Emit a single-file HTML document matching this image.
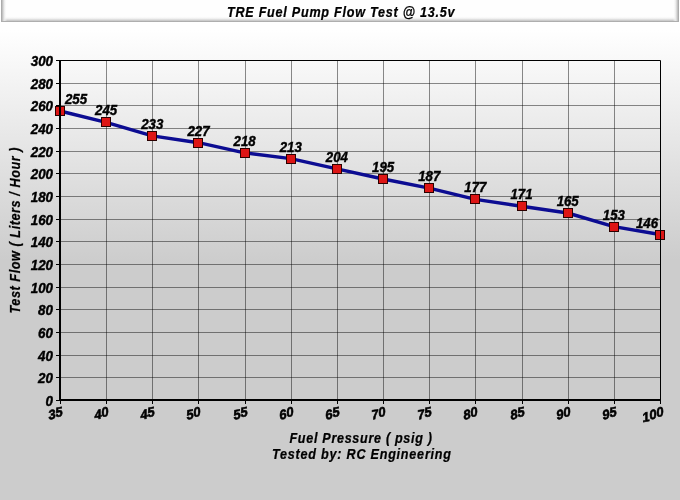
<!DOCTYPE html><html><head><meta charset="utf-8"><style>html,body{margin:0;padding:0;width:680px;height:500px;overflow:hidden;background:#ccc}svg{display:block;will-change:transform}text{font-family:"Liberation Sans",sans-serif}</style></head><body>
<svg width="680" height="500" viewBox="0 0 680 500">
<defs>
<linearGradient id="bg" x1="0" y1="0" x2="0" y2="1" gradientUnits="objectBoundingBox"><stop offset="0" stop-color="#ffffff"/><stop offset="0.06" stop-color="#ffffff"/><stop offset="0.52" stop-color="#cccccc"/><stop offset="1" stop-color="#cccccc"/></linearGradient>
<linearGradient id="pl" x1="0" y1="60" x2="0" y2="400" gradientUnits="userSpaceOnUse"><stop offset="0" stop-color="#f9f9f9"/><stop offset="0.6" stop-color="#cccccc"/><stop offset="1" stop-color="#cccccc"/></linearGradient>
<linearGradient id="tb" x1="0" y1="0" x2="0" y2="22" gradientUnits="userSpaceOnUse"><stop offset="0" stop-color="#ffffff"/><stop offset="0.7" stop-color="#fafafa"/><stop offset="0.85" stop-color="#e0e0e0"/><stop offset="1" stop-color="#a8a8a8"/></linearGradient>
</defs>
<rect x="0" y="0" width="680" height="500" fill="url(#bg)"/>
<linearGradient id="tl" x1="1" y1="0" x2="7" y2="0" gradientUnits="userSpaceOnUse"><stop offset="0" stop-color="#a0a0a0"/><stop offset="0.2" stop-color="#bcbcbc"/><stop offset="0.5" stop-color="#e6e6e6"/><stop offset="1" stop-color="#ffffff" stop-opacity="0"/></linearGradient>
<linearGradient id="tr" x1="679" y1="0" x2="673" y2="0" gradientUnits="userSpaceOnUse"><stop offset="0" stop-color="#a0a0a0"/><stop offset="0.2" stop-color="#bcbcbc"/><stop offset="0.5" stop-color="#e6e6e6"/><stop offset="1" stop-color="#ffffff" stop-opacity="0"/></linearGradient>
<linearGradient id="tbm" x1="0" y1="16" x2="0" y2="22" gradientUnits="userSpaceOnUse"><stop offset="0" stop-color="#ffffff" stop-opacity="0"/><stop offset="0.45" stop-color="#eeeeee"/><stop offset="0.75" stop-color="#cccccc"/><stop offset="1" stop-color="#a0a0a0"/></linearGradient>
<rect x="1" y="0" width="678" height="22" fill="#fefefe"/>
<rect x="1" y="16" width="678" height="6" fill="url(#tbm)"/>
<rect x="1" y="0" width="6" height="21" fill="url(#tl)"/>
<rect x="673" y="0" width="6" height="21" fill="url(#tr)"/>
<text transform="translate(227 16.6) scale(0.9 1)" x="0" y="0" textLength="252.78" lengthAdjust="spacing" font-size="14" font-weight="bold" font-style="italic" fill="#000" stroke="#000" stroke-width="0.25">TRE Fuel Pump Flow Test @ 13.5v</text>
<rect x="60" y="60" width="600" height="340" fill="url(#pl)"/>
<path d="M106.5 60V400M152.5 60V400M198.5 60V400M245.5 60V400M291.5 60V400M337.5 60V400M383.5 60V400M429.5 60V400M475.5 60V400M522.5 60V400M568.5 60V400M614.5 60V400" stroke="#000" stroke-opacity="0.45" stroke-width="1" fill="none"/>
<path d="M60 377.5H660M60 355.5H660M60 332.5H660M60 309.5H660M60 287.5H660M60 264.5H660M60 241.5H660M60 219.5H660M60 196.5H660M60 173.5H660M60 151.5H660M60 128.5H660M60 105.5H660M60 83.5H660" stroke="#000" stroke-opacity="0.45" stroke-width="1" fill="none"/>
<text transform="translate(53 405.75) scale(0.97 1)" text-anchor="end" font-size="13.8" font-weight="bold" font-style="italic" fill="#000" stroke="#000" stroke-width="0.4">0</text>
<text transform="translate(53 382.75) scale(0.97 1)" text-anchor="end" font-size="13.8" font-weight="bold" font-style="italic" fill="#000" stroke="#000" stroke-width="0.4">20</text>
<text transform="translate(53 360.75) scale(0.97 1)" text-anchor="end" font-size="13.8" font-weight="bold" font-style="italic" fill="#000" stroke="#000" stroke-width="0.4">40</text>
<text transform="translate(53 337.75) scale(0.97 1)" text-anchor="end" font-size="13.8" font-weight="bold" font-style="italic" fill="#000" stroke="#000" stroke-width="0.4">60</text>
<text transform="translate(53 314.75) scale(0.97 1)" text-anchor="end" font-size="13.8" font-weight="bold" font-style="italic" fill="#000" stroke="#000" stroke-width="0.4">80</text>
<text transform="translate(53 292.75) scale(0.97 1)" text-anchor="end" font-size="13.8" font-weight="bold" font-style="italic" fill="#000" stroke="#000" stroke-width="0.4">100</text>
<text transform="translate(53 269.75) scale(0.97 1)" text-anchor="end" font-size="13.8" font-weight="bold" font-style="italic" fill="#000" stroke="#000" stroke-width="0.4">120</text>
<text transform="translate(53 246.75) scale(0.97 1)" text-anchor="end" font-size="13.8" font-weight="bold" font-style="italic" fill="#000" stroke="#000" stroke-width="0.4">140</text>
<text transform="translate(53 224.75) scale(0.97 1)" text-anchor="end" font-size="13.8" font-weight="bold" font-style="italic" fill="#000" stroke="#000" stroke-width="0.4">160</text>
<text transform="translate(53 201.75) scale(0.97 1)" text-anchor="end" font-size="13.8" font-weight="bold" font-style="italic" fill="#000" stroke="#000" stroke-width="0.4">180</text>
<text transform="translate(53 178.75) scale(0.97 1)" text-anchor="end" font-size="13.8" font-weight="bold" font-style="italic" fill="#000" stroke="#000" stroke-width="0.4">200</text>
<text transform="translate(53 156.75) scale(0.97 1)" text-anchor="end" font-size="13.8" font-weight="bold" font-style="italic" fill="#000" stroke="#000" stroke-width="0.4">220</text>
<text transform="translate(53 133.75) scale(0.97 1)" text-anchor="end" font-size="13.8" font-weight="bold" font-style="italic" fill="#000" stroke="#000" stroke-width="0.4">240</text>
<text transform="translate(53 110.75) scale(0.97 1)" text-anchor="end" font-size="13.8" font-weight="bold" font-style="italic" fill="#000" stroke="#000" stroke-width="0.4">260</text>
<text transform="translate(53 88.75) scale(0.97 1)" text-anchor="end" font-size="13.8" font-weight="bold" font-style="italic" fill="#000" stroke="#000" stroke-width="0.4">280</text>
<text transform="translate(53 65.75) scale(0.97 1)" text-anchor="end" font-size="13.8" font-weight="bold" font-style="italic" fill="#000" stroke="#000" stroke-width="0.4">300</text>
<text transform="translate(62.70 417.30) skewY(-10) scale(0.94 1)" text-anchor="end" dy="0 -1.25" font-size="13.6" font-weight="bold" fill="#000" stroke="#000" stroke-width="0.6">35</text>
<text transform="translate(108.70 417.30) skewY(-10) scale(0.94 1)" text-anchor="end" dy="0 -1.25" font-size="13.6" font-weight="bold" fill="#000" stroke="#000" stroke-width="0.6">40</text>
<text transform="translate(154.70 417.30) skewY(-10) scale(0.94 1)" text-anchor="end" dy="0 -1.25" font-size="13.6" font-weight="bold" fill="#000" stroke="#000" stroke-width="0.6">45</text>
<text transform="translate(200.70 417.30) skewY(-10) scale(0.94 1)" text-anchor="end" dy="0 -1.25" font-size="13.6" font-weight="bold" fill="#000" stroke="#000" stroke-width="0.6">50</text>
<text transform="translate(247.70 417.30) skewY(-10) scale(0.94 1)" text-anchor="end" dy="0 -1.25" font-size="13.6" font-weight="bold" fill="#000" stroke="#000" stroke-width="0.6">55</text>
<text transform="translate(293.70 417.30) skewY(-10) scale(0.94 1)" text-anchor="end" dy="0 -1.25" font-size="13.6" font-weight="bold" fill="#000" stroke="#000" stroke-width="0.6">60</text>
<text transform="translate(339.70 417.30) skewY(-10) scale(0.94 1)" text-anchor="end" dy="0 -1.25" font-size="13.6" font-weight="bold" fill="#000" stroke="#000" stroke-width="0.6">65</text>
<text transform="translate(385.70 417.30) skewY(-10) scale(0.94 1)" text-anchor="end" dy="0 -1.25" font-size="13.6" font-weight="bold" fill="#000" stroke="#000" stroke-width="0.6">70</text>
<text transform="translate(431.70 417.30) skewY(-10) scale(0.94 1)" text-anchor="end" dy="0 -1.25" font-size="13.6" font-weight="bold" fill="#000" stroke="#000" stroke-width="0.6">75</text>
<text transform="translate(477.70 417.30) skewY(-10) scale(0.94 1)" text-anchor="end" dy="0 -1.25" font-size="13.6" font-weight="bold" fill="#000" stroke="#000" stroke-width="0.6">80</text>
<text transform="translate(524.70 417.30) skewY(-10) scale(0.94 1)" text-anchor="end" dy="0 -1.25" font-size="13.6" font-weight="bold" fill="#000" stroke="#000" stroke-width="0.6">85</text>
<text transform="translate(570.70 417.30) skewY(-10) scale(0.94 1)" text-anchor="end" dy="0 -1.25" font-size="13.6" font-weight="bold" fill="#000" stroke="#000" stroke-width="0.6">90</text>
<text transform="translate(616.70 417.30) skewY(-10) scale(0.94 1)" text-anchor="end" dy="0 -1.25" font-size="13.6" font-weight="bold" fill="#000" stroke="#000" stroke-width="0.6">95</text>
<text transform="translate(663.70 418.50) skewY(-10) scale(0.94 1)" text-anchor="end" dy="0 -1.25 -1.25" font-size="13.6" font-weight="bold" fill="#000" stroke="#000" stroke-width="0.6">100</text>
<polyline points="60.0,111.0 106.2,122.3 152.3,135.9 198.5,142.7 244.6,152.9 290.8,158.6 336.9,168.8 383.1,179.0 429.2,188.1 475.4,199.4 521.5,206.2 567.7,213.0 613.8,226.6 660.0,234.5" stroke="#0c0c92" stroke-width="3.4" fill="none" stroke-linejoin="round"/>
<rect x="55.5" y="106.5" width="9" height="9" fill="#dd1515" stroke="#2a0000" stroke-width="1"/>
<rect x="101.5" y="117.5" width="9" height="9" fill="#dd1515" stroke="#2a0000" stroke-width="1"/>
<rect x="147.5" y="131.5" width="9" height="9" fill="#dd1515" stroke="#2a0000" stroke-width="1"/>
<rect x="193.5" y="138.5" width="9" height="9" fill="#dd1515" stroke="#2a0000" stroke-width="1"/>
<rect x="240.5" y="148.5" width="9" height="9" fill="#dd1515" stroke="#2a0000" stroke-width="1"/>
<rect x="286.5" y="154.5" width="9" height="9" fill="#dd1515" stroke="#2a0000" stroke-width="1"/>
<rect x="332.5" y="164.5" width="9" height="9" fill="#dd1515" stroke="#2a0000" stroke-width="1"/>
<rect x="378.5" y="174.5" width="9" height="9" fill="#dd1515" stroke="#2a0000" stroke-width="1"/>
<rect x="424.5" y="183.5" width="9" height="9" fill="#dd1515" stroke="#2a0000" stroke-width="1"/>
<rect x="470.5" y="194.5" width="9" height="9" fill="#dd1515" stroke="#2a0000" stroke-width="1"/>
<rect x="517.5" y="201.5" width="9" height="9" fill="#dd1515" stroke="#2a0000" stroke-width="1"/>
<rect x="563.5" y="208.5" width="9" height="9" fill="#dd1515" stroke="#2a0000" stroke-width="1"/>
<rect x="609.5" y="222.5" width="9" height="9" fill="#dd1515" stroke="#2a0000" stroke-width="1"/>
<rect x="655.5" y="230.5" width="9" height="9" fill="#dd1515" stroke="#2a0000" stroke-width="1"/>
<path d="M56 400.5H60M56 377.5H60M56 355.5H60M56 332.5H60M56 309.5H60M56 287.5H60M56 264.5H60M56 241.5H60M56 219.5H60M56 196.5H60M56 173.5H60M56 151.5H60M56 128.5H60M56 105.5H60M56 83.5H60M56 60.5H60M60.5 400V404M106.5 400V404M152.5 400V404M198.5 400V404M245.5 400V404M291.5 400V404M337.5 400V404M383.5 400V404M429.5 400V404M475.5 400V404M522.5 400V404M568.5 400V404M614.5 400V404M660.5 400V404" stroke="#000" stroke-width="1" fill="none"/>
<path d="M60 60.5H660.5V400" stroke="#000" stroke-width="1" fill="none"/>
<path d="M60 60V400H661" stroke="#000" stroke-width="2" fill="none"/>
<text transform="translate(65.00 103.70) scale(0.96 1)" text-anchor="start" font-size="13.8" font-weight="bold" font-style="italic" fill="#000" stroke="#000" stroke-width="0.4">255</text>
<text transform="translate(106.15 114.70) scale(0.96 1)" text-anchor="middle" font-size="13.8" font-weight="bold" font-style="italic" fill="#000" stroke="#000" stroke-width="0.4">245</text>
<text transform="translate(152.31 128.70) scale(0.96 1)" text-anchor="middle" font-size="13.8" font-weight="bold" font-style="italic" fill="#000" stroke="#000" stroke-width="0.4">233</text>
<text transform="translate(198.46 135.70) scale(0.96 1)" text-anchor="middle" font-size="13.8" font-weight="bold" font-style="italic" fill="#000" stroke="#000" stroke-width="0.4">227</text>
<text transform="translate(244.62 145.70) scale(0.96 1)" text-anchor="middle" font-size="13.8" font-weight="bold" font-style="italic" fill="#000" stroke="#000" stroke-width="0.4">218</text>
<text transform="translate(290.77 151.70) scale(0.96 1)" text-anchor="middle" font-size="13.8" font-weight="bold" font-style="italic" fill="#000" stroke="#000" stroke-width="0.4">213</text>
<text transform="translate(336.92 161.70) scale(0.96 1)" text-anchor="middle" font-size="13.8" font-weight="bold" font-style="italic" fill="#000" stroke="#000" stroke-width="0.4">204</text>
<text transform="translate(383.08 171.70) scale(0.96 1)" text-anchor="middle" font-size="13.8" font-weight="bold" font-style="italic" fill="#000" stroke="#000" stroke-width="0.4">195</text>
<text transform="translate(429.23 180.70) scale(0.96 1)" text-anchor="middle" font-size="13.8" font-weight="bold" font-style="italic" fill="#000" stroke="#000" stroke-width="0.4">187</text>
<text transform="translate(475.38 191.70) scale(0.96 1)" text-anchor="middle" font-size="13.8" font-weight="bold" font-style="italic" fill="#000" stroke="#000" stroke-width="0.4">177</text>
<text transform="translate(521.54 198.70) scale(0.96 1)" text-anchor="middle" font-size="13.8" font-weight="bold" font-style="italic" fill="#000" stroke="#000" stroke-width="0.4">171</text>
<text transform="translate(567.69 205.70) scale(0.96 1)" text-anchor="middle" font-size="13.8" font-weight="bold" font-style="italic" fill="#000" stroke="#000" stroke-width="0.4">165</text>
<text transform="translate(613.85 219.70) scale(0.96 1)" text-anchor="middle" font-size="13.8" font-weight="bold" font-style="italic" fill="#000" stroke="#000" stroke-width="0.4">153</text>
<text transform="translate(658.00 227.70) scale(0.96 1)" text-anchor="end" font-size="13.8" font-weight="bold" font-style="italic" fill="#000" stroke="#000" stroke-width="0.4">146</text>
<text transform="translate(20 313.5) rotate(-90) scale(0.9 1)" x="0" y="0" textLength="184.44" lengthAdjust="spacing" font-size="14" font-weight="bold" font-style="italic" fill="#000" stroke="#000" stroke-width="0.25">Test Flow ( Liters / Hour )</text>
<text transform="translate(289.5 442.8) scale(0.9 1)" x="0" y="0" textLength="158.33" lengthAdjust="spacing" font-size="14" font-weight="bold" font-style="italic" fill="#000" stroke="#000" stroke-width="0.25">Fuel Pressure ( psig )</text>
<text transform="translate(272 458.9) scale(0.9 1)" x="0" y="0" textLength="198.89" lengthAdjust="spacing" font-size="14" font-weight="bold" font-style="italic" fill="#000" stroke="#000" stroke-width="0.25">Tested by: RC Engineering</text>
</svg></body></html>
